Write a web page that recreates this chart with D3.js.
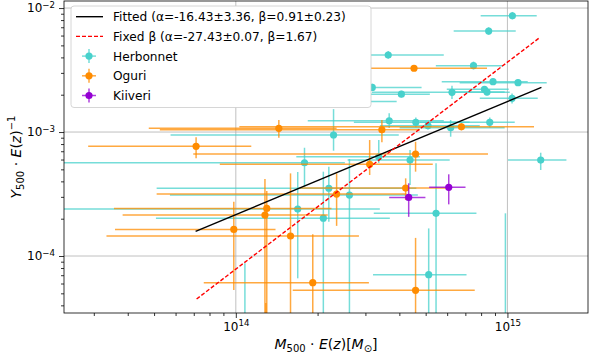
<!DOCTYPE html>
<html>
<head>
<meta charset="utf-8">
<script src="https://cdn.jsdelivr.net/npm/d3@7"></script>
<style>
  body { margin: 0; background: #fff; }
  svg { font-family: "DejaVu Sans", sans-serif; }
</style>
</head>
<body>
<div id="chart"></div>
<script>
// rows: [mass, massLo, massHi, y, yLo, yHi]
const herbonnet = [
  [1.043e15, 7.97e14, 1.282e15, 8.67e-3, 8.1e-3, 9.3e-3],
  [8.53e14, 6.34e14, 1.073e15, 6.52e-3, 6.1e-3, 7.0e-3],
  [3.64e14, 2.22e14, 5.83e14, 4.18e-3, 3.9e-3, 4.5e-3],
  [7.50e14, 5.45e14, 9.61e14, 3.43e-3, 3.2e-3, 3.7e-3],
  [8.85e14, 5.73e14, 1.188e15, 2.55e-3, 2.4e-3, 2.7e-3],
  [1.094e15, 6.67e14, 1.395e15, 2.50e-3, 2.35e-3, 2.65e-3],
  [8.23e14, 5.98e14, 1.011e15, 2.21e-3, 2.08e-3, 2.35e-3],
  [8.41e14, 6.13e14, 9.77e14, 2.10e-3, 1.98e-3, 2.23e-3],
  [6.25e14, 3.17e14, 1.020e15, 2.09e-3, 1.85e-3, 2.36e-3],
  [3.18e14, 1.72e14, 4.83e14, 2.29e-3, 2.15e-3, 2.45e-3],
  [4.07e14, 2.22e14, 5.18e14, 2.02e-3, 1.9e-3, 2.15e-3],
  [1.040e15, 7.91e14, 1.293e15, 1.87e-3, 1.70e-3, 2.05e-3],
  [1.72e14, 1.13e14, 3.91e14, 1.76e-3, 1.6e-3, 1.95e-3],
  [3.67e14, 1.84e14, 5.83e14, 1.233e-3, 1.077e-3, 1.42e-3],
  [4.60e14, 2.72e14, 7.26e14, 1.197e-3, 1.09e-3, 1.31e-3],
  [5.10e14, 3.39e14, 7.91e14, 1.124e-3, 1.05e-3, 1.2e-3],
  [6.18e14, 4.01e14, 9.77e14, 1.083e-3, 9.17e-4, 1.25e-3],
  [8.61e14, 4.76e14, 1.064e15, 1.197e-3, 1.09e-3, 1.31e-3],
  [2.29e14, 5.75e13, 3.98e14, 9.46e-4, 7.07e-4, 1.53e-3],
  [1.79e14, 1.9e13, 2.52e14, 5.65e-4, 3.62e-4, 7.47e-4],
  [3.36e14, 1.67e14, 4.76e14, 6.32e-4, 5.62e-4, 8.62e-4],
  [4.38e14, 2.58e14, 6.13e14, 5.94e-4, 3.74e-4, 7.16e-4],
  [1.326e15, 1.005e15, 1.649e15, 5.94e-4, 4.94e-4, 6.81e-4],
  [2.20e14, 5.11e13, 4.62e14, 3.52e-4, 1.89e-4, 5.25e-4],
  [2.62e14, 5.72e13, 4.68e14, 3.10e-4, 2.5e-5, 6.06e-4],
  [1.69e14, 1.9e13, 3.39e14, 2.39e-4, 6.61e-5, 4.76e-4],
  [2.10e14, 5.08e13, 3.69e14, 2.02e-4, 2.1e-5, 4.79e-4],
  [5.46e14, 3.22e14, 7.69e14, 2.21e-4, 2.1e-5, 5.59e-4],
  [5.13e14, 3.20e14, 7.07e14, 7.07e-5, 2.0e-5, 1.67e-4],
  [1.08e14, 7.0e13, 1.6e14, 2.0e-5, 1.0e-5, 8.73e-5],
  [9.83e14, 7.0e14, 1.3e15, 2.0e-5, 1.0e-5, 2.21e-4]
];
const oguri = [
  [4.53e14, 2.41e14, 8.41e14, 3.27e-3, 3.1e-3, 3.45e-3],
  [6.77e14, 1.03e14, 1.253e15, 1.103e-3, 1.03e-3, 1.18e-3],
  [3.45e14, 5.25e13, 4.76e14, 1.043e-3, 8.26e-4, 1.25e-3],
  [1.44e14, 4.78e13, 2.35e14, 1.071e-3, 8.99e-4, 1.25e-3],
  [7.14e13, 2.86e13, 1.14e14, 7.67e-4, 6.14e-4, 9.06e-4],
  [4.59e14, 6.97e13, 8.48e14, 6.65e-4, 4.79e-4, 8.35e-4],
  [3.11e14, 8.73e13, 5.31e14, 5.49e-4, 4.50e-4, 8.62e-4],
  [4.22e14, 1.72e14, 5.96e14, 3.53e-4, 2.83e-4, 4.23e-4],
  [2.35e14, 5.11e13, 4.25e14, 3.16e-4, 1.75e-4, 4.64e-4],
  [1.30e14, 3.56e13, 2.25e14, 2.42e-4, 2.5e-5, 3.34e-4],
  [1.28e14, 3.83e13, 2.18e14, 2.14e-4, 2.5e-5, 4.18e-4],
  [9.83e13, 3.59e13, 1.40e14, 1.64e-4, 5.32e-5, 2.74e-4],
  [1.59e14, 3.34e13, 2.84e14, 1.45e-4, 2.5e-5, 4.64e-4],
  [1.92e14, 7.62e13, 3.09e14, 6.09e-5, 2.5e-5, 1.50e-4],
  [4.59e14, 1.62e14, 7.58e14, 5.29e-5, 2.5e-5, 1.40e-4],
  [1.29e14, 9.0e13, 1.8e14, 1.5e-5, 1.0e-5, 4.18e-5]
];
const kiiveri = [
  [6.08e14, 5.15e14, 7.01e14, 3.58e-4, 2.61e-4, 4.56e-4],
  [4.33e14, 3.67e14, 4.99e14, 2.97e-4, 2.07e-4, 3.86e-4]
];
// fit lines: [mass, y] end points
const fittedLine = [[7.11e13, 1.58e-4], [1.334e15, 2.29e-3]];
const fixedLine = [[7.17e13, 4.50e-5], [1.318e15, 5.80e-3]];

const xMajor = [1e14, 1e15];
const yMajor = [1e-4, 1e-3, 1e-2];
const legendLabels = [
  'Fitted (α=-16.43±3.36, β=0.91±0.23)',
  'Fixed β (α=-27.43±0.07, β=1.67)',
  'Herbonnet', 'Oguri', 'Kiiveri'
];

const width = 589, height = 363;
const plot = { left: 64, right: 588, top: 1, bottom: 313 };

const svg = d3.select('#chart').append('svg')
  .attr('width', width).attr('height', height);

const x = d3.scaleLog().domain([2.33e13, 1.98e15]).range([plot.left, plot.right]);
const y = d3.scaleLog().domain([3.47e-5, 1.14e-2]).range([plot.bottom, plot.top]);

function minorTicks(scale) {
  const [a, b] = scale.domain();
  const out = [];
  for (let e = Math.floor(Math.log10(a)); e <= Math.ceil(Math.log10(b)); e++) {
    for (let k = 2; k <= 9; k++) {
      const v = k * Math.pow(10, e);
      if (v >= a && v <= b) out.push(v);
    }
  }
  return out;
}

// grid
svg.append('g').selectAll('line').data(xMajor).join('line')
  .attr('x1', d => x(d)).attr('x2', d => x(d))
  .attr('y1', plot.top).attr('y2', plot.bottom)
  .attr('stroke', '#b0b0b0').attr('stroke-width', 0.8);
svg.append('g').selectAll('line').data(yMajor).join('line')
  .attr('y1', d => y(d)).attr('y2', d => y(d))
  .attr('x1', plot.left).attr('x2', plot.right)
  .attr('stroke', '#b0b0b0').attr('stroke-width', 0.8);

svg.append('clipPath').attr('id', 'clip').append('rect')
  .attr('x', plot.left).attr('y', plot.top)
  .attr('width', plot.right - plot.left).attr('height', plot.bottom - plot.top);

const body = svg.append('g').attr('clip-path', 'url(#clip)');

function drawSeries(data, color) {
  const g = body.append('g');
  g.selectAll('line.xe').data(data).join('line')
    .attr('x1', d => x(d[1])).attr('x2', d => x(d[2]))
    .attr('y1', d => y(d[3])).attr('y2', d => y(d[3]))
    .attr('stroke', color).attr('stroke-width', 1.5).attr('stroke-opacity', 0.75);
  g.selectAll('line.ye').data(data).join('line')
    .attr('x1', d => x(d[0])).attr('x2', d => x(d[0]))
    .attr('y1', d => y(d[4])).attr('y2', d => y(d[5]))
    .attr('stroke', color).attr('stroke-width', 1.5).attr('stroke-opacity', 0.75);
  g.selectAll('circle').data(data).join('circle')
    .attr('cx', d => x(d[0])).attr('cy', d => y(d[3]))
    .attr('r', 3.6).attr('fill', color);
}
drawSeries(herbonnet, '#48d1cc');
drawSeries(oguri, '#ff8c00');
drawSeries(kiiveri, '#9400d3');

const line = d3.line().x(d => x(d[0])).y(d => y(d[1]));
body.append('path').attr('d', line(fittedLine))
  .attr('fill', 'none').attr('stroke', 'black').attr('stroke-width', 1.4);
body.append('path').attr('d', line(fixedLine))
  .attr('fill', 'none').attr('stroke', 'red').attr('stroke-width', 1.4)
  .attr('stroke-dasharray', '4,2');

// axes
function powLabel(sel) {
  sel.selectAll('.tick text').each(function(d) {
    const t = d3.select(this).text(null);
    t.append('tspan').text('10');
    const e = Math.round(Math.log10(d));
    t.append('tspan').attr('dy', '-0.5em').attr('font-size', '0.72em')
      .text(e < 0 ? '\u2212' + (-e) : e);
  });
}
const xAx = svg.append('g').attr('transform', `translate(0,${plot.bottom})`);
xAx.append('g').call(d3.axisBottom(x).tickValues(minorTicks(x)).tickSize(3).tickFormat(''));
xAx.append('g').call(d3.axisBottom(x).tickValues(xMajor).tickSize(5).tickPadding(4).tickFormat(d => d))
  .call(powLabel);
const yAx = svg.append('g').attr('transform', `translate(${plot.left},0)`);
yAx.append('g').call(d3.axisLeft(y).tickValues(minorTicks(y)).tickSize(3).tickFormat(''));
yAx.append('g').call(d3.axisLeft(y).tickValues(yMajor).tickSize(5).tickPadding(4).tickFormat(d => d))
  .call(powLabel);
svg.selectAll('.domain').remove();
svg.selectAll('.tick line').attr('stroke', 'black').attr('stroke-width', 0.8);
svg.selectAll('.tick text').attr('font-size', 12).attr('fill', 'black')
  .attr('font-family', '"DejaVu Sans", sans-serif');

// frame
svg.append('rect').attr('x', plot.left).attr('y', plot.top)
  .attr('width', plot.right - plot.left).attr('height', plot.bottom - plot.top)
  .attr('fill', 'none').attr('stroke', 'black').attr('stroke-width', 0.8);

// axis labels
const xl = svg.append('text').attr('x', (plot.left + plot.right) / 2).attr('y', 349)
  .attr('text-anchor', 'middle').attr('font-size', 14);
xl.append('tspan').attr('font-style', 'italic').text('M');
xl.append('tspan').attr('font-size', 10).attr('dy', 3).text('500');
xl.append('tspan').attr('dy', -3).text(' · ');
xl.append('tspan').attr('font-style', 'italic').text('E');
xl.append('tspan').text('(');
xl.append('tspan').attr('font-style', 'italic').text('z');
xl.append('tspan').text(')[');
xl.append('tspan').attr('font-style', 'italic').text('M');
xl.append('tspan').attr('font-size', 10).attr('dy', 3).text('⊙');
xl.append('tspan').attr('dy', -3).text(']');

const yl = svg.append('text')
  .attr('transform', `translate(21,${(plot.top + plot.bottom) / 2}) rotate(-90)`)
  .attr('text-anchor', 'middle').attr('font-size', 14);
yl.append('tspan').attr('font-style', 'italic').text('Y');
yl.append('tspan').attr('font-size', 10).attr('dy', 3).text('500');
yl.append('tspan').attr('dy', -3).text(' · ');
yl.append('tspan').attr('font-style', 'italic').text('E');
yl.append('tspan').text('(');
yl.append('tspan').attr('font-style', 'italic').text('z');
yl.append('tspan').text(')');
yl.append('tspan').attr('font-size', 10).attr('dy', -6).text('\u22121');

// legend
const lg = svg.append('g');
lg.append('rect').attr('x', 71).attr('y', 6).attr('width', 300).attr('height', 101.5)
  .attr('rx', 3).attr('fill', 'white')
  .attr('stroke', '#cccccc').attr('stroke-width', 0.8);
const rowY = i => 16.7 + i * 19.7;
const legendColors = ['black', 'red', '#48d1cc', '#ff8c00', '#9400d3'];
legendLabels.forEach((label, i) => {
  const yy = rowY(i);
  if (i < 2) {
    lg.append('line').attr('x1', 76).attr('x2', 103).attr('y1', yy).attr('y2', yy)
      .attr('stroke', legendColors[i]).attr('stroke-width', 1.4)
      .attr('stroke-dasharray', i === 1 ? '4,2' : null);
  } else {
    lg.append('line').attr('x1', 82).attr('x2', 96).attr('y1', yy).attr('y2', yy)
      .attr('stroke', legendColors[i]).attr('stroke-width', 1.5).attr('stroke-opacity', 0.75);
    lg.append('line').attr('x1', 89).attr('x2', 89).attr('y1', yy - 7).attr('y2', yy + 7)
      .attr('stroke', legendColors[i]).attr('stroke-width', 1.5).attr('stroke-opacity', 0.75);
    lg.append('circle').attr('cx', 89).attr('cy', yy).attr('r', 3.6).attr('fill', legendColors[i]);
  }
  lg.append('text').attr('x', 113).attr('y', yy + 4.5).attr('font-size', 12.2).text(label);
});
</script>
</body>
</html>
